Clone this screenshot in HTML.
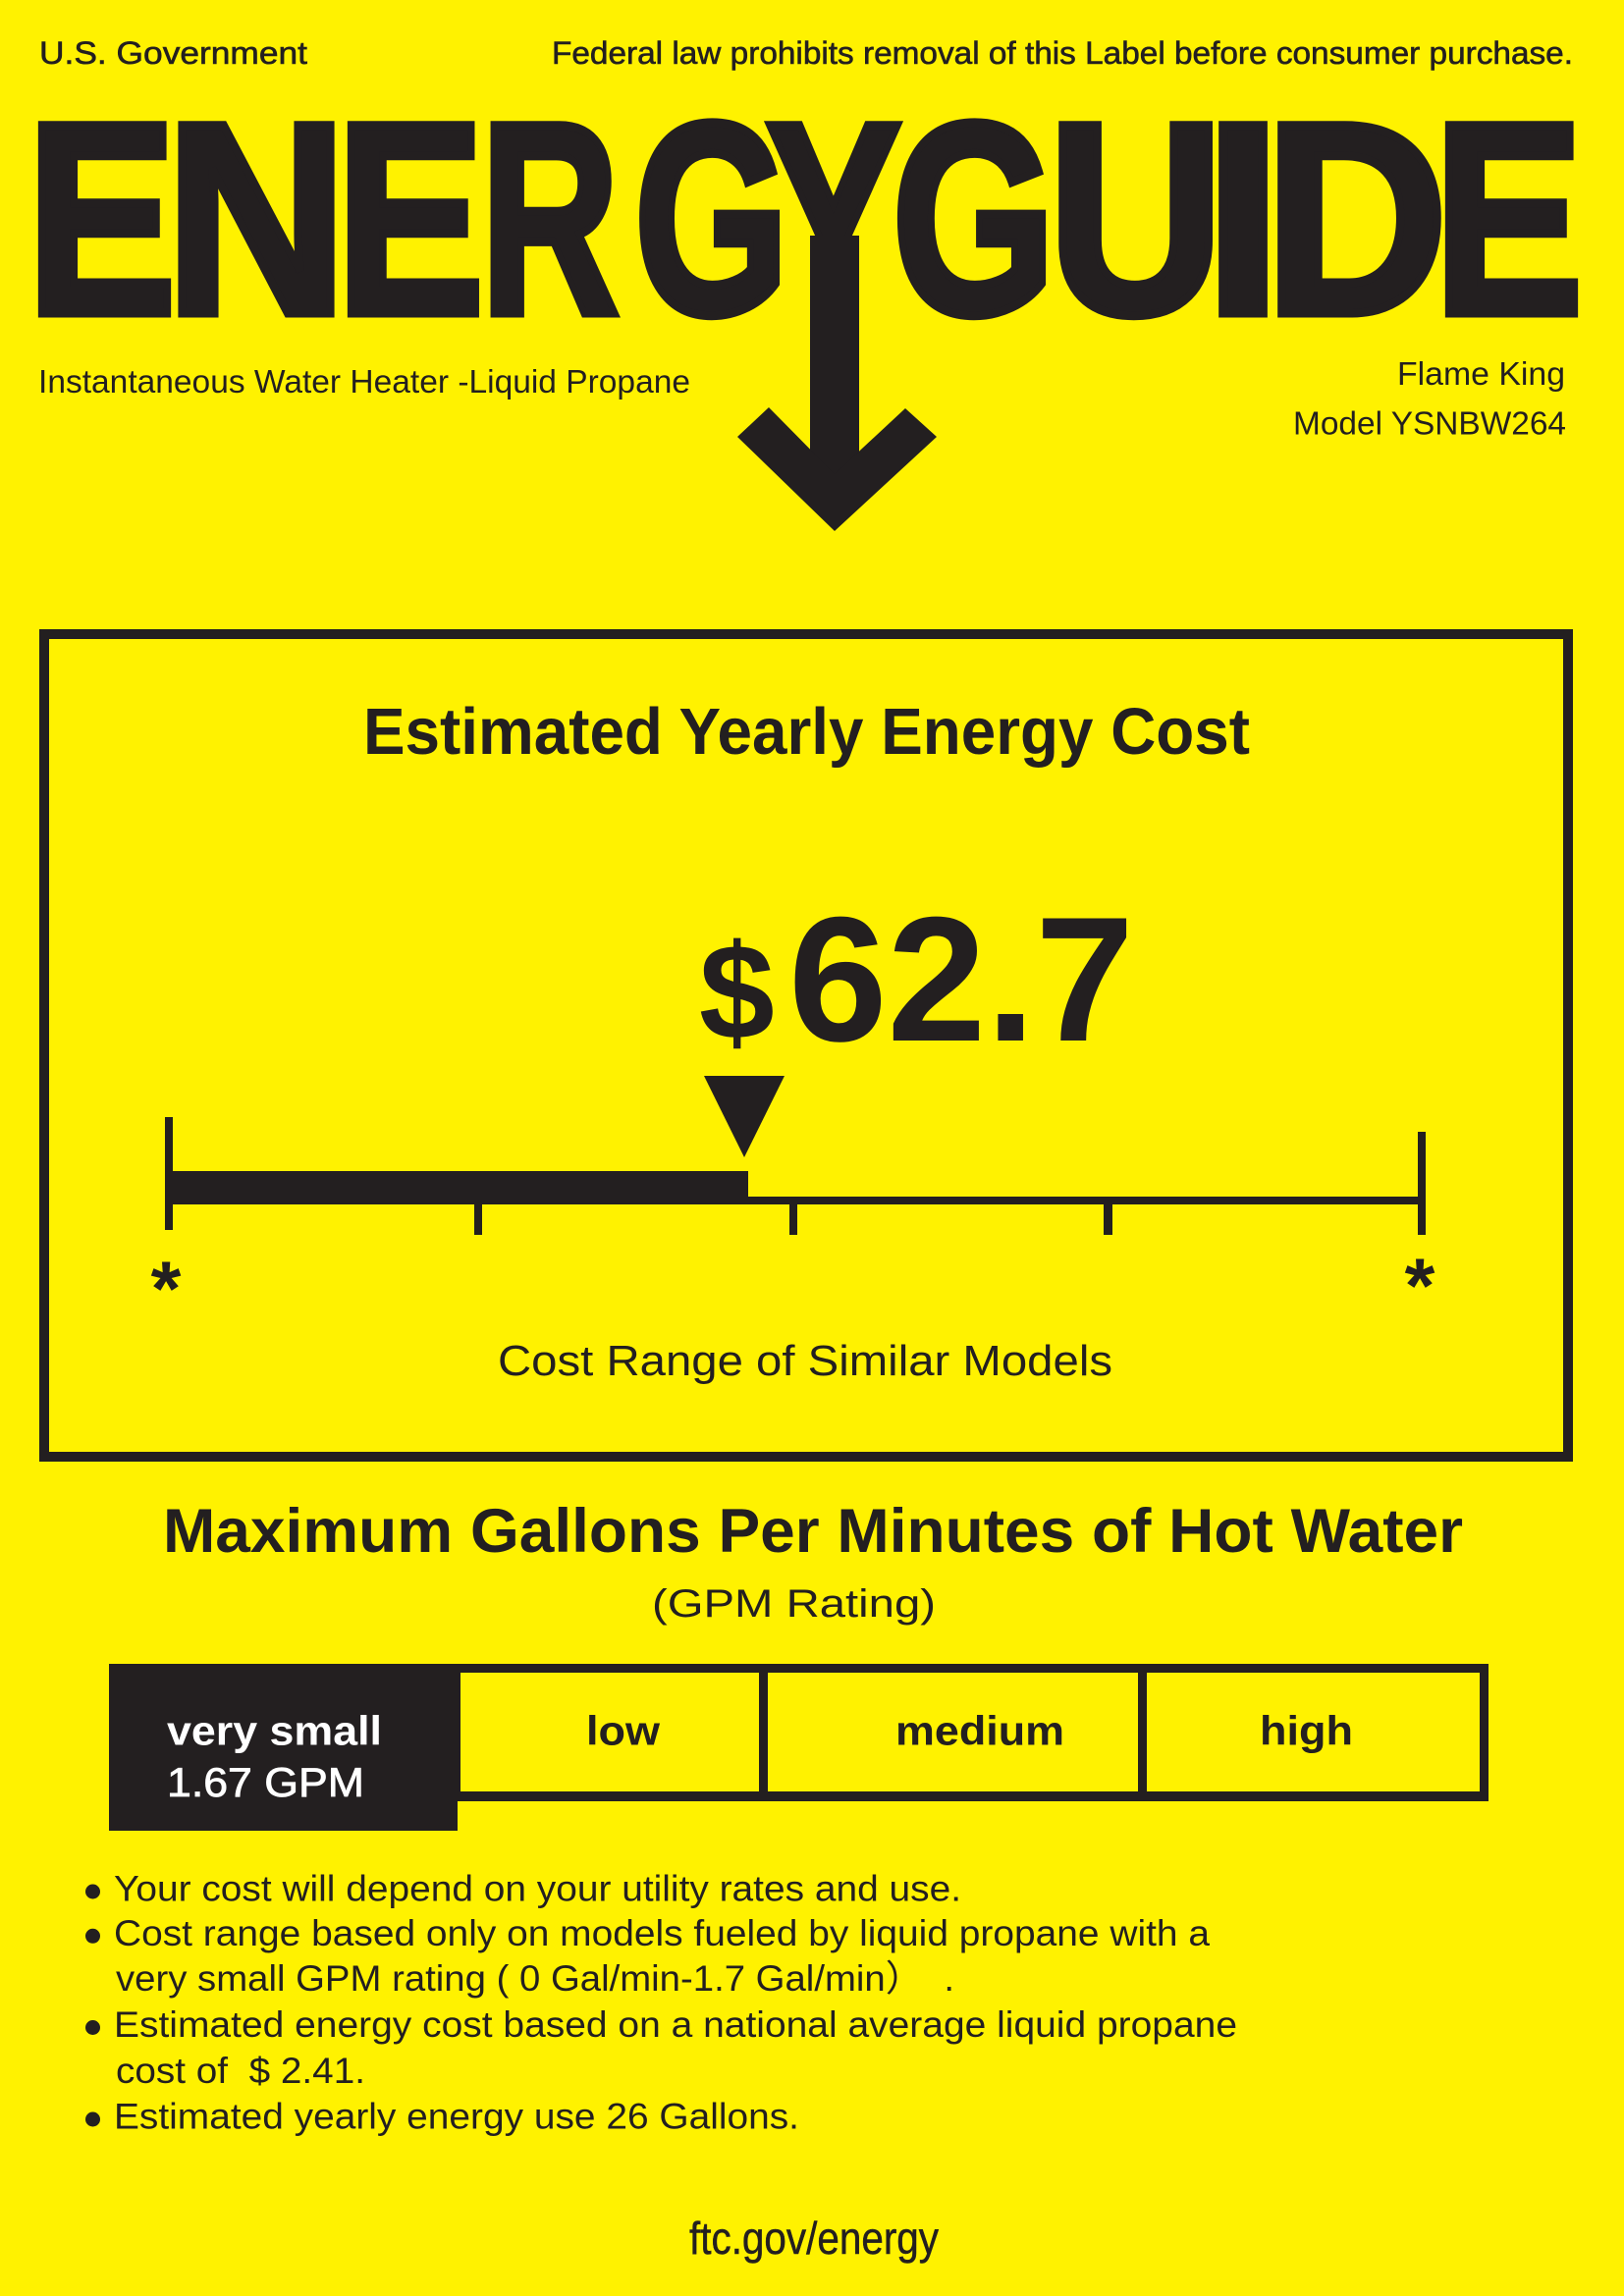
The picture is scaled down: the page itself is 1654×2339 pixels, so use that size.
<!DOCTYPE html>
<html>
<head>
<meta charset="utf-8">
<style>
html,body{margin:0;padding:0;background:#fff200;}
svg{display:block;}
text{font-family:"Liberation Sans",Arial,"Noto Sans CJK SC",sans-serif;fill:#231f20;}
.logo{font-weight:bold;font-size:278px;stroke:#231f20;stroke-width:9px;stroke-linejoin:miter;}
.b{font-weight:bold;}
.pre{white-space:pre;}
</style>
</head>
<body>
<svg width="1654" height="2339" viewBox="0 0 1654 2339" xmlns="http://www.w3.org/2000/svg">
<rect x="0" y="0" width="1654" height="2339" fill="#fff200"/>

<!-- top line -->
<text x="40" y="65" font-size="32" textLength="273" lengthAdjust="spacingAndGlyphs" stroke="#231f20" stroke-width="0.6">U.S. Government</text>
<text x="562" y="65" font-size="32" textLength="1040" lengthAdjust="spacingAndGlyphs" stroke="#231f20" stroke-width="0.6">Federal law prohibits removal of this Label before consumer purchase.</text>

<!-- ENERGYGUIDE logo -->
<text class="logo" transform="translate(27.3,319) scale(0.820,1)">E</text>
<text class="logo" transform="translate(168.4,319) scale(0.923,1)">N</text>
<text class="logo" transform="translate(342.4,319) scale(0.813,1)">E</text>
<text class="logo" transform="translate(489.7,319) scale(0.700,1)">R</text>
<text class="logo" transform="translate(646.1,319) scale(0.727,1)">G</text>
<text class="logo" transform="translate(780.3,319) scale(0.740,1)">Y</text>
<text class="logo" transform="translate(908.6,319) scale(0.769,1)">G</text>
<text class="logo" transform="translate(1067.4,319) scale(0.890,1)">U</text>
<text class="logo" transform="translate(1226.9,319) scale(1.013,1)">I</text>
<text class="logo" transform="translate(1288.1,319) scale(0.928,1)">D</text>
<text class="logo" transform="translate(1460.3,319) scale(0.820,1)">E</text>

<!-- arrow -->
<rect x="825" y="240" width="50" height="250" fill="#231f20"/>
<polygon points="751,445 783,415 850,483 922,416 954,445 850,541" fill="#231f20"/>

<!-- sub headings -->
<text x="39" y="400" font-size="33" textLength="664" lengthAdjust="spacingAndGlyphs">Instantaneous Water Heater -Liquid Propane</text>
<text x="1423" y="392" font-size="33" textLength="171" lengthAdjust="spacingAndGlyphs">Flame King</text>
<text x="1317" y="442.6" font-size="33" textLength="278" lengthAdjust="spacingAndGlyphs">Model YSNBW264</text>

<!-- cost box -->
<rect x="45" y="646" width="1552" height="838" fill="none" stroke="#231f20" stroke-width="10"/>
<text class="b" x="370" y="768" font-size="67" textLength="903" lengthAdjust="spacingAndGlyphs">Estimated Yearly Energy Cost</text>

<text class="b" x="712" y="1058" font-size="138">$</text>
<text class="b" x="803" y="1060" font-size="181" textLength="352" lengthAdjust="spacingAndGlyphs">62.7</text>

<polygon points="717,1096 799,1096 758,1179" fill="#231f20"/>

<!-- scale -->
<rect x="168" y="1138" width="8" height="115" fill="#231f20"/>
<rect x="176" y="1193" width="586" height="34" fill="#231f20"/>
<rect x="762" y="1219" width="690" height="8" fill="#231f20"/>
<rect x="483" y="1227" width="8" height="31" fill="#231f20"/>
<rect x="804" y="1227" width="8" height="31" fill="#231f20"/>
<rect x="1124" y="1224" width="9" height="34" fill="#231f20"/>
<rect x="1444" y="1153" width="8" height="105" fill="#231f20"/>

<text class="b" x="169" y="1340" font-size="79" text-anchor="middle">*</text>
<text class="b" x="1446" y="1337" font-size="79" text-anchor="middle">*</text>

<text x="507" y="1401" font-size="43.5" textLength="626" lengthAdjust="spacingAndGlyphs">Cost Range of Similar Models</text>

<!-- GPM section -->
<text class="b" x="166" y="1581" font-size="63" textLength="1324" lengthAdjust="spacingAndGlyphs">Maximum Gallons Per Minutes of Hot Water</text>
<text x="664" y="1647" font-size="40" textLength="289" lengthAdjust="spacingAndGlyphs">(GPM Rating)</text>

<rect x="466" y="1695" width="1050" height="140" fill="#231f20"/>
<rect x="469" y="1704" width="304" height="121" fill="#fff200"/>
<rect x="782" y="1704" width="377" height="121" fill="#fff200"/>
<rect x="1168" y="1704" width="339" height="121" fill="#fff200"/>
<rect x="111" y="1695" width="355" height="170" fill="#231f20"/>

<text class="b" x="170" y="1777.5" font-size="42" textLength="219" lengthAdjust="spacingAndGlyphs" style="fill:#fff">very small</text>
<text x="170" y="1830" font-size="42" textLength="201" lengthAdjust="spacingAndGlyphs" style="fill:#fff" stroke="#fff" stroke-width="0.8">1.67 GPM</text>
<text class="b" x="597" y="1777.5" font-size="42" textLength="75" lengthAdjust="spacingAndGlyphs">low</text>
<text class="b" x="912" y="1777.5" font-size="42" textLength="172" lengthAdjust="spacingAndGlyphs">medium</text>
<text class="b" x="1283" y="1777.5" font-size="42" textLength="95" lengthAdjust="spacingAndGlyphs">high</text>

<!-- bullets -->
<circle cx="94.5" cy="1927" r="7.5" fill="#231f20"/>
<circle cx="94.5" cy="1972.3" r="7.5" fill="#231f20"/>
<circle cx="94.5" cy="2065.5" r="7.5" fill="#231f20"/>
<circle cx="94.5" cy="2159" r="7.5" fill="#231f20"/>

<text x="116" y="1936.4" font-size="37" textLength="863" lengthAdjust="spacingAndGlyphs">Your cost will depend on your utility rates and use.</text>
<text x="116" y="1981.8" font-size="37" textLength="1116" lengthAdjust="spacingAndGlyphs">Cost range based only on models fueled by liquid propane with a</text>
<text class="pre" x="118" y="2028" font-size="37" textLength="854" lengthAdjust="spacingAndGlyphs">very small GPM rating ( 0 Gal/min-1.7 Gal/min）  .</text>
<text x="116" y="2075" font-size="37" textLength="1144" lengthAdjust="spacingAndGlyphs">Estimated energy cost based on a national average liquid propane</text>
<text class="pre" x="118" y="2122" font-size="37" textLength="254" lengthAdjust="spacingAndGlyphs">cost of  $ 2.41.</text>
<text x="116" y="2168.4" font-size="37" textLength="698" lengthAdjust="spacingAndGlyphs">Estimated yearly energy use 26 Gallons.</text>

<!-- footer -->
<text x="702" y="2296" font-size="46" textLength="254" lengthAdjust="spacingAndGlyphs" stroke="#231f20" stroke-width="0.5">ftc.gov/energy</text>
</svg>
</body>
</html>
